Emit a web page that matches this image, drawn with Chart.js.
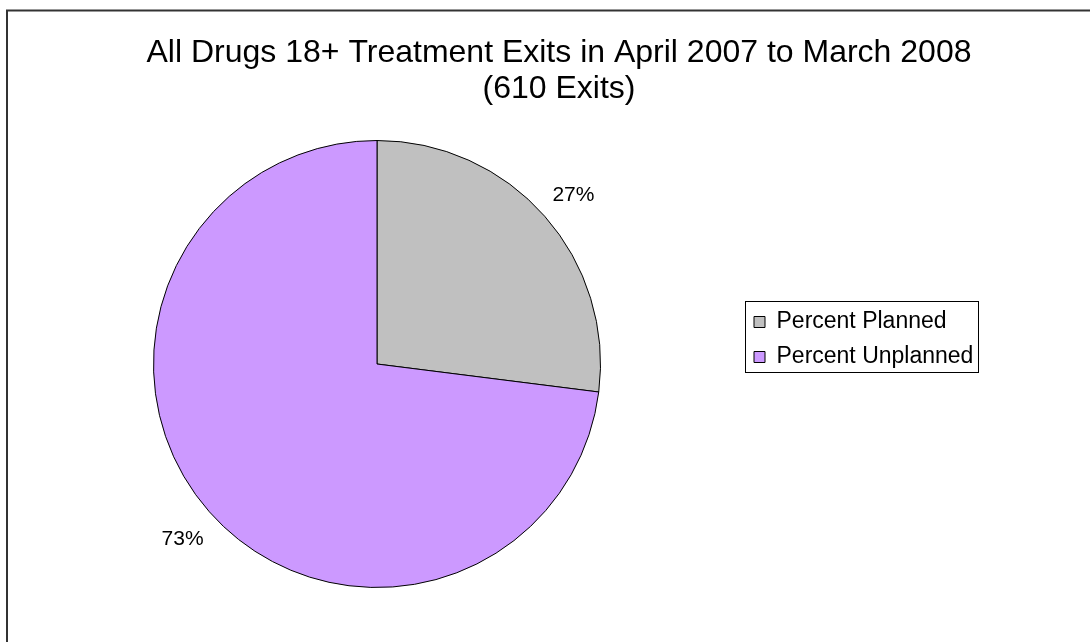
<!DOCTYPE html>
<html>
<head>
<meta charset="utf-8">
<script src="https://cdn.jsdelivr.net/npm/chart.js@4/dist/chart.umd.min.js"></script>
<style>
  html, body { margin: 0; padding: 0; background: #fff; }
  #wrap { width: 1090px; height: 642px; }
</style>
</head>
<body>
<div id="wrap"><canvas id="pieChart" width="1090" height="642"></canvas></div>
<script>
const titleLines = ['All Drugs 18+ Treatment Exits in April 2007 to March 2008', '(610 Exits)'];
const categories = ['Percent Planned', 'Percent Unplanned'];
const percentValues = [27, 73];
const sliceColors = ['#C0C0C0', '#CC99FF'];

const fontFamily = 'Arial, "Liberation Sans", sans-serif';

// frame round the whole chart, like the sheet it was cut from
const framePlugin = {
    id: 'frame',
    beforeDraw(chart) {
        const ctx = chart.ctx;
        ctx.save();
        ctx.fillStyle = '#fff';
        ctx.fillRect(0, 0, chart.width, chart.height);
        ctx.strokeStyle = '#333';
        ctx.lineWidth = 2;
        ctx.strokeRect(7, 10.5, chart.width + 20, chart.height + 20);
        ctx.restore();
    }
};

// put legend and title where the original has them
const placePlugin = {
    id: 'place',
    afterLayout(chart) {
        const lg = chart.legend;
        lg.left = 742;
        lg.top = 298.5;
        lg.right = lg.left + lg.width;
        lg.bottom = lg.top + 100;
        const t = chart.titleBlock;
        t.left = 28;
        t.right = 1090;
    },
    afterDraw(chart) {
        const lg = chart.legend;
        const hb = lg.legendHitBoxes;
        if (!hb || !hb.length) return;
        const ctx = chart.ctx;
        let right = 0;
        hb.forEach(h => { right = Math.max(right, h.left + h.width); });
        const x0 = hb[0].left - 9;
        const y0 = hb[0].top - 10;
        const last = hb[hb.length - 1];
        const y1 = last.top + last.height + 3;
        ctx.save();
        ctx.strokeStyle = '#000';
        ctx.lineWidth = 1;
        ctx.strokeRect(Math.round(x0) + 0.5, Math.round(y0) + 0.5, Math.round(right + 5 - x0), Math.round(y1 - y0));
        ctx.restore();
    }
};

// percentage labels just outside each slice
const sliceLabels = {
    id: 'sliceLabels',
    afterDatasetsDraw(chart) {
        const ctx = chart.ctx;
        const meta = chart.getDatasetMeta(0);
        const data = chart.data.datasets[0].data;
        const total = data.reduce((a, b) => a + b, 0);
        ctx.save();
        ctx.font = '21px ' + fontFamily;
        ctx.fillStyle = '#000';
        ctx.textAlign = 'center';
        ctx.textBaseline = 'middle';
        meta.data.forEach((arc, i) => {
            const p = arc.getProps(['x', 'y', 'startAngle', 'endAngle', 'outerRadius'], true);
            const mid = (p.startAngle + p.endAngle) / 2;
            const r = p.outerRadius + 37;
            ctx.fillText(Math.round(data[i] / total * 100) + '%', p.x + Math.cos(mid) * r + 1, p.y + Math.sin(mid) * r + 3);
        });
        ctx.restore();
    }
};

new Chart(document.getElementById('pieChart'), {
    type: 'pie',
    data: {
        labels: categories,
        datasets: [{
            data: percentValues,
            backgroundColor: sliceColors,
            borderColor: '#000',
            borderWidth: 1
        }]
    },
    options: {
        responsive: false,
        animation: false,
        layout: {
            padding: { left: 153, right: 489, top: 0, bottom: 54 }
        },
        plugins: {
            title: {
                display: true,
                text: titleLines,
                color: '#000',
                font: { family: fontFamily, size: 32, weight: 'normal', lineHeight: 1.1 },
                padding: { top: 35.9, bottom: 33.7 }
            },
            legend: {
                position: 'chartArea',
                align: 'start',
                labels: {
                    color: '#000',
                    font: { family: fontFamily, size: 23 },
                    boxWidth: 11,
                    boxHeight: 11,
                    padding: 12
                }
            },
            tooltip: { enabled: false }
        }
    },
    plugins: [framePlugin, placePlugin, sliceLabels]
});
</script>
</body>
</html>
